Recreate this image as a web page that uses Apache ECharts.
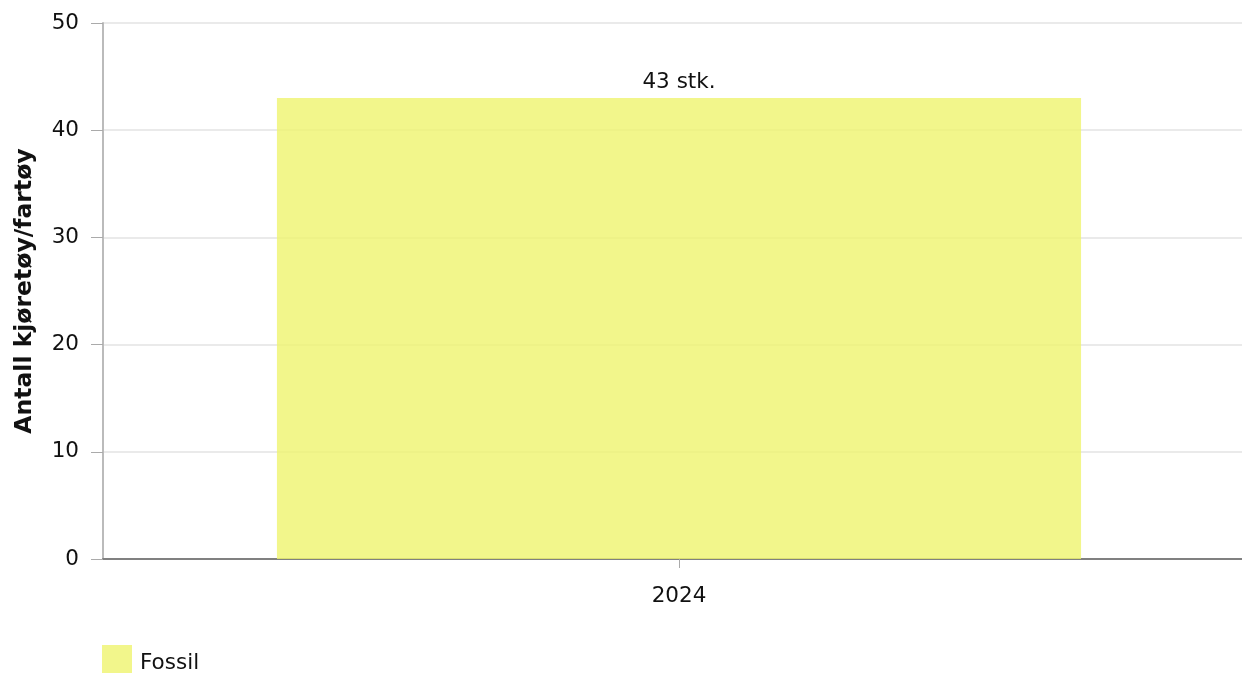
<!DOCTYPE html>
<html><head><meta charset="utf-8">
<script src="https://cdn.jsdelivr.net/npm/echarts@6/dist/echarts.min.js"></script>
<style>html,body{margin:0;padding:0;background:#fff}#c{width:1242px;height:673px}</style>
</head><body><div id="c"></div>
<script>
const categories = ['2024'];
const fossilValues = [43];
const yTicks = { min: 0, max: 50, interval: 10 };
const seriesName = 'Fossil';
const yAxisTitle = 'Antall kjøretøy/fartøy';
const labelSuffix = ' stk.';

const font = 'DejaVu Sans, Verdana, sans-serif';
const fs = 21.5;
const chart = echarts.init(document.getElementById('c'));
chart.setOption({
  animation: false,
  textStyle: { fontFamily: font },
  grid: { left: 103, width: 1152, top: 23, bottom: 114, containLabel: false, outerBoundsMode: 'none' },
  legend: {
    left: 102, top: 645, padding: 0, itemWidth: 30, itemHeight: 28, itemGap: 10,
    icon: 'rect',
    formatter: n => '{a|' + n + '}',
    textStyle: {
      fontSize: fs, color: '#111', fontFamily: font,
      rich: { a: { fontSize: fs, color: '#111', fontFamily: font, padding: [8, 0, 0, 3] } }
    },
    data: [seriesName]
  },
  xAxis: {
    type: 'category', data: categories,
    axisLine: { lineStyle: { color: '#808080', width: 2 } },
    axisTick: { show: true, alignWithLabel: true, length: 9, lineStyle: { color: '#aaa' } },
    axisLabel: { fontSize: fs, color: '#111', margin: 26, fontFamily: font }
  },
  yAxis: {
    type: 'value', min: yTicks.min, max: yTicks.max, interval: yTicks.interval,
    name: yAxisTitle, nameLocation: 'middle', nameGap: 66, nameRotate: 90,
    nameTextStyle: { fontSize: 23.5, fontWeight: 'bold', color: '#111', fontFamily: font },
    axisLine: { show: true, lineStyle: { color: '#bbb', width: 2 } },
    axisTick: { show: true, length: 12, lineStyle: { color: '#aaa' } },
    axisLabel: { fontSize: fs, color: '#111', margin: 24, fontFamily: font },
    splitLine: { lineStyle: { color: '#e3e3e3', width: 1.5 } }
  },
  series: [{
    name: seriesName, type: 'bar', data: fossilValues, barWidth: '69.8%',
    itemStyle: { color: 'rgba(239,244,110,0.8)' },
    z: 1,
    label: {
      show: true, position: 'top', distance: 5, fontSize: fs, color: '#111', fontFamily: font,
      formatter: p => p.value + labelSuffix
    }
  }]
});
</script></body></html>
